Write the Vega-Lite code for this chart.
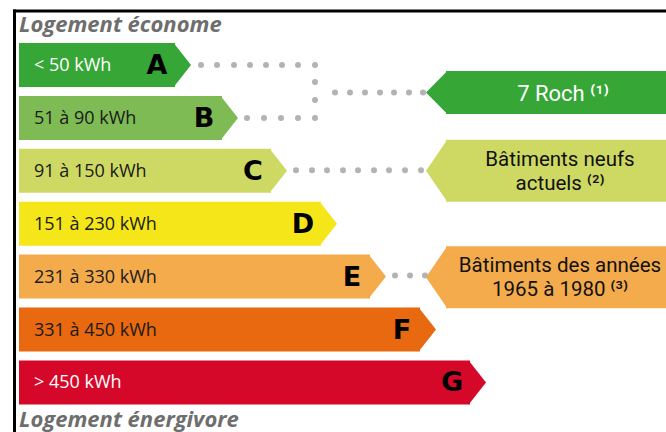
{
  "$schema": "https://vega.github.io/schema/vega-lite/v6.json",
  "width": 666,
  "height": 432,
  "autosize": {"type": "none"},
  "padding": 0,
  "background": "white",
  "config": {"view": {"stroke": null}},
  "datasets": {
    "classes": [
      {"cls": "A", "range": "< 50 kWh", "rank": 1, "start": 19, "end": 175},
      {"cls": "B", "range": "51 à 90 kWh", "rank": 2, "start": 19, "end": 222},
      {"cls": "C", "range": "91 à 150 kWh", "rank": 3, "start": 19, "end": 271},
      {"cls": "D", "range": "151 à 230 kWh", "rank": 4, "start": 19, "end": 321},
      {"cls": "E", "range": "231 à 330 kWh", "rank": 5, "start": 19, "end": 370},
      {"cls": "F", "range": "331 à 450 kWh", "rank": 6, "start": 19, "end": 420},
      {"cls": "G", "range": "> 450 kWh", "rank": 7, "start": 19, "end": 470}
    ],
    "callouts": [
      {"cls": "A", "label": "7 Roch ⁽¹⁾", "rank": 1.52, "start": 446, "end": 666},
      {"cls": "C", "label": "Bâtiments neufs\nactuels ⁽²⁾", "rank": 3.0, "start": 446, "end": 666},
      {"cls": "E", "label": "Bâtiments des années\n1965 à 1980 ⁽³⁾", "rank": 5.01, "start": 446, "end": 666}
    ],
    "dots": [
      {"x": 201, "rank": 1}, {"x": 217, "rank": 1}, {"x": 234, "rank": 1}, {"x": 250, "rank": 1},
      {"x": 266, "rank": 1}, {"x": 282, "rank": 1}, {"x": 298, "rank": 1}, {"x": 315, "rank": 1},
      {"x": 315, "rank": 1.32}, {"x": 315, "rank": 1.66},
      {"x": 247, "rank": 2}, {"x": 264, "rank": 2}, {"x": 281, "rank": 2}, {"x": 298, "rank": 2}, {"x": 315, "rank": 2},
      {"x": 335, "rank": 1.52}, {"x": 350, "rank": 1.52}, {"x": 365, "rank": 1.52}, {"x": 380, "rank": 1.52},
      {"x": 394, "rank": 1.52}, {"x": 409, "rank": 1.52}, {"x": 423, "rank": 1.52},
      {"x": 296, "rank": 2.99}, {"x": 312, "rank": 2.99}, {"x": 327, "rank": 2.99}, {"x": 343, "rank": 2.99},
      {"x": 358, "rank": 2.99}, {"x": 374, "rank": 2.99}, {"x": 389, "rank": 2.99}, {"x": 405, "rank": 2.99},
      {"x": 421, "rank": 2.99},
      {"x": 395, "rank": 4.98}, {"x": 410, "rank": 4.98}, {"x": 425, "rank": 4.98}
    ],
    "notes": [
      {"text": "Logement économe", "rank": 0.376, "x": 19},
      {"text": "Logement énergivore", "rank": 7.843, "x": 19}
    ],
    "frame": [
      {"x": 13, "x2": 666, "y": -0.0208, "y2": -0.0208},
      {"x": 14.5, "x2": 14.5, "y": -0.05, "y2": 7.95}
    ]
  },
  "layer": [
    {
      "data": {"name": "classes"},
      "mark": {"type": "bar", "orient": "horizontal", "height": 44},
      "encoding": {
        "y": {"field": "rank", "type": "quantitative", "scale": {"domain": [-0.2287, 7.9376], "reverse": true, "nice": false, "zero": false, "padding": 0}, "axis": null},
        "x": {"field": "start", "type": "quantitative", "scale": {"domain": [0, 666], "nice": false, "zero": false, "padding": 0}, "axis": null},
        "x2": {"field": "end"},
        "color": {"field": "cls", "type": "nominal", "legend": null,
          "scale": {"domain": ["A", "B", "C", "D", "E", "F", "G"],
                    "range": ["#36a637", "#7fbb55", "#cdd962", "#f5e61a", "#f3ab4b", "#e8690f", "#d6082a"]}}
      }
    },
    {
      "data": {"name": "classes"},
      "mark": {"type": "point", "shape": "M-0.06,-1L0.727,0L-0.06,1Z", "filled": true, "opacity": 1, "size": 1936, "strokeWidth": 0},
      "encoding": {
        "y": {"field": "rank", "type": "quantitative"},
        "x": {"field": "end", "type": "quantitative"},
        "color": {"field": "cls", "type": "nominal", "legend": null}
      }
    },
    {
      "data": {"name": "classes"},
      "mark": {"type": "text", "align": "left", "baseline": "middle", "font": "Open Sans", "fontSize": 18, "dx": 15, "dy": 1},
      "encoding": {
        "y": {"field": "rank", "type": "quantitative"},
        "x": {"field": "start", "type": "quantitative"},
        "text": {"field": "range", "type": "nominal"},
        "color": {"condition": {"test": "datum.cls === 'A' || datum.cls === 'G'", "value": "#ffffff"}, "value": "#1a1a1a"}
      }
    },
    {
      "data": {"name": "classes"},
      "mark": {"type": "text", "align": "center", "baseline": "middle", "font": "DejaVu Sans", "fontWeight": "bold", "fontSize": 27, "dx": -18, "dy": 1, "color": "#000000"},
      "encoding": {
        "y": {"field": "rank", "type": "quantitative"},
        "x": {"field": "end", "type": "quantitative"},
        "text": {"field": "cls", "type": "nominal"}
      }
    },
    {
      "data": {"name": "dots"},
      "mark": {"type": "circle", "size": 36, "color": "#b3b3b3", "opacity": 1},
      "encoding": {
        "y": {"field": "rank", "type": "quantitative"},
        "x": {"field": "x", "type": "quantitative"}
      }
    },
    {
      "data": {"name": "callouts"},
      "transform": [{"filter": "datum.cls === 'A'"}],
      "mark": {"type": "bar", "orient": "horizontal", "height": 43},
      "encoding": {
        "y": {"field": "rank", "type": "quantitative"},
        "x": {"field": "start", "type": "quantitative"},
        "x2": {"field": "end"},
        "color": {"field": "cls", "type": "nominal", "legend": null}
      }
    },
    {
      "data": {"name": "callouts"},
      "transform": [{"filter": "datum.cls !== 'A'"}],
      "mark": {"type": "bar", "orient": "horizontal", "height": 62},
      "encoding": {
        "y": {"field": "rank", "type": "quantitative"},
        "x": {"field": "start", "type": "quantitative"},
        "x2": {"field": "end"},
        "color": {"field": "cls", "type": "nominal", "legend": null}
      }
    },
    {
      "data": {"name": "callouts"},
      "transform": [{"filter": "datum.cls === 'A'"}],
      "mark": {"type": "point", "shape": "M0.06,-1L-0.93,0L0.06,1Z", "filled": true, "opacity": 1, "size": 1849, "strokeWidth": 0},
      "encoding": {
        "y": {"field": "rank", "type": "quantitative"},
        "x": {"field": "start", "type": "quantitative"},
        "color": {"field": "cls", "type": "nominal", "legend": null}
      }
    },
    {
      "data": {"name": "callouts"},
      "transform": [{"filter": "datum.cls !== 'A'"}],
      "mark": {"type": "point", "shape": "M0.04,-1L-0.645,0L0.04,1Z", "filled": true, "opacity": 1, "size": 3844, "strokeWidth": 0},
      "encoding": {
        "y": {"field": "rank", "type": "quantitative"},
        "x": {"field": "start", "type": "quantitative"},
        "color": {"field": "cls", "type": "nominal", "legend": null}
      }
    },
    {
      "data": {"name": "callouts"},
      "transform": [{"filter": "datum.cls === 'A'"}],
      "mark": {"type": "text", "align": "center", "baseline": "middle", "font": "Roboto", "fontSize": 22, "dx": 117, "dy": 1, "color": "#ffffff"},
      "encoding": {
        "y": {"field": "rank", "type": "quantitative"},
        "x": {"field": "start", "type": "quantitative"},
        "text": {"field": "label", "type": "nominal"}
      }
    },
    {
      "data": {"name": "callouts"},
      "transform": [{"filter": "datum.cls !== 'A'"}],
      "mark": {"type": "text", "align": "center", "baseline": "middle", "lineBreak": "\n", "lineHeight": 24, "font": "Roboto", "fontSize": 20.5, "dx": 114, "dy": -11, "color": "#111111"},
      "encoding": {
        "y": {"field": "rank", "type": "quantitative"},
        "x": {"field": "start", "type": "quantitative"},
        "text": {"field": "label", "type": "nominal"}
      }
    },
    {
      "data": {"name": "notes"},
      "mark": {"type": "text", "align": "left", "baseline": "alphabetic", "font": "Open Sans", "fontStyle": "italic", "fontWeight": "bold", "fontSize": 22, "color": "#6e6e6e"},
      "encoding": {
        "y": {"field": "rank", "type": "quantitative"},
        "x": {"field": "x", "type": "quantitative"},
        "text": {"field": "text", "type": "nominal"}
      }
    },
    {
      "data": {"name": "frame"},
      "mark": {"type": "rule", "color": "#000000", "strokeWidth": 3},
      "encoding": {
        "x": {"field": "x", "type": "quantitative"},
        "x2": {"field": "x2"},
        "y": {"field": "y", "type": "quantitative"},
        "y2": {"field": "y2"}
      }
    }
  ]
}
